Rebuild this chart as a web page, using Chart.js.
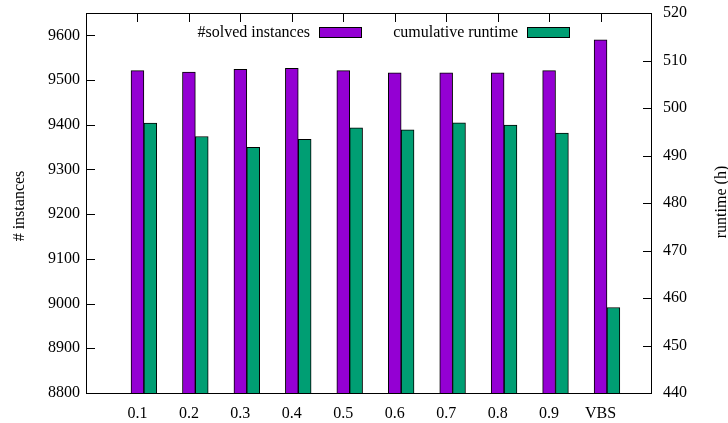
<!DOCTYPE html>
<html>
<head>
<meta charset="utf-8">
<script src="https://cdn.jsdelivr.net/npm/chart.js@4/dist/chart.umd.min.js"></script>
<style>
  html, body { margin: 0; padding: 0; background: #fff; }
  #wrap { width: 728px; height: 423px; position: relative; }
</style>
</head>
<body>
<div id="wrap"><canvas id="c" width="728" height="423"></canvas></div>
<script>
// ---- data ----
const categories = ['0.1', '0.2', '0.3', '0.4', '0.5', '0.6', '0.7', '0.8', '0.9', 'VBS'];
const solvedInstances = [9521, 9518, 9524, 9526, 9521, 9516, 9516, 9516, 9521, 9590];
const cumulativeRuntime = [496.8, 494.0, 491.7, 493.4, 495.8, 495.4, 496.9, 496.4, 494.7, 458.0];
const seriesLabels = ['#solved instances', 'cumulative runtime'];
const leftTicks = [8800, 8900, 9000, 9100, 9200, 9300, 9400, 9500, 9600];
const rightTicks = [440, 450, 460, 470, 480, 490, 500, 510, 520];
const leftTitle = '# instances';
const rightTitle = 'runtime (h)';

// ---- style / layout ----
const FONT = "'Liberation Serif', 'Times New Roman', serif";
const FS = 16;
const TICK_FONT = { family: FONT, size: FS };
const PURPLE = '#9400d3';
const GREEN = '#009e73';
const CLUSTER_OFFSET = 0.25; // second series sits one box-width right of the first
const TICK_LEN = 9;

Chart.defaults.color = '#000';
Chart.defaults.font.family = FONT;
Chart.defaults.font.size = FS;

function zeroPad(s) { s.paddingLeft = 0; s.paddingRight = 0; s.paddingTop = 0; s.paddingBottom = 0; }

const framePlugin = {
  id: 'frame',
  beforeDatasetsDraw(chart) {
    const { ctx, chartArea: a, scales } = chart;
    ctx.save();
    ctx.strokeStyle = '#000';
    ctx.lineWidth = 1;
    ctx.beginPath();
    scales.y.ticks.forEach(t => {
      const y = Math.round(scales.y.getPixelForValue(t.value)) + 0.5;
      ctx.moveTo(a.left, y); ctx.lineTo(a.left + TICK_LEN, y);
    });
    scales.y2.ticks.forEach(t => {
      const y = Math.round(scales.y2.getPixelForValue(t.value)) + 0.5;
      ctx.moveTo(a.right - TICK_LEN, y); ctx.lineTo(a.right, y);
    });
    categories.forEach((c, i) => {
      const x = Math.round(scales.x.getPixelForValue(i)) + 0.5;
      ctx.moveTo(x, a.top); ctx.lineTo(x, a.top + TICK_LEN);
      ctx.moveTo(x, a.bottom); ctx.lineTo(x, a.bottom - TICK_LEN);
    });
    ctx.stroke();
    ctx.restore();
  },
  afterDatasetsDraw(chart) {
    const { ctx, chartArea: a } = chart;
    ctx.save();
    ctx.strokeStyle = '#000';
    ctx.lineWidth = 1;
    ctx.strokeRect(a.left + 0.5, a.top + 0.5, a.right - a.left - 1, a.bottom - a.top);
    ctx.font = FS + 'px ' + FONT;
    ctx.fillStyle = '#000';
    // axis titles (both read bottom-to-top)
    const cy = (a.top + a.bottom) / 2;
    ctx.textAlign = 'center';
    ctx.textBaseline = 'middle';
    ctx.save(); ctx.translate(20, cy + 3); ctx.rotate(-Math.PI / 2); ctx.fillText(leftTitle, 0, 0); ctx.restore();
    ctx.save(); ctx.translate(722, cy - 1); ctx.rotate(-Math.PI / 2); ctx.fillText(rightTitle, 0, 0); ctx.restore();
    // legend (gnuplot style: text then sample box)
    ctx.textAlign = 'right';
    const entries = chart.data.datasets.map(d => ({ label: d.label, color: d.backgroundColor }));
    const textRight = [310, 518];
    const ly = 33;
    entries.forEach((e, k) => {
      ctx.fillStyle = '#000';
      ctx.fillText(e.label, textRight[k], ly);
      const bx = textRight[k] + 9;
      ctx.fillStyle = e.color;
      ctx.fillRect(bx, 27, 43, 11);
      ctx.strokeRect(bx + 0.5, 27.5, 42, 10);
    });
    ctx.restore();
  }
};

new Chart(document.getElementById('c'), {
  type: 'bar',
  data: {
    datasets: [
      {
        label: seriesLabels[0],
        data: solvedInstances.map((v, i) => ({ x: i, y: v })),
        backgroundColor: PURPLE,
        borderColor: '#000',
        borderWidth: 1,
        yAxisID: 'y'
      },
      {
        label: seriesLabels[1],
        data: cumulativeRuntime.map((v, i) => ({ x: i + CLUSTER_OFFSET, y: v })),
        backgroundColor: GREEN,
        borderColor: '#000',
        borderWidth: 1,
        yAxisID: 'y2'
      }
    ]
  },
  options: {
    responsive: false,
    animation: false,
    grouped: false,
    categoryPercentage: 1,
    barPercentage: 1,
    layout: { padding: { top: 13, left: 0, right: 0, bottom: 0 } },
    plugins: { legend: { display: false }, tooltip: { enabled: false } },
    scales: {
      x: {
        type: 'linear',
        offset: false,
        min: -1,
        max: categories.length,
        grid: { display: false, drawTicks: false, offset: false },
        border: { display: false },
        afterBuildTicks: s => { s.ticks = categories.map((c, i) => ({ value: i })); },
        ticks: {
          font: TICK_FONT,
          autoSkip: false,
          maxRotation: 0,
          padding: 11,
          callback: v => categories[v] ?? ''
        },
        afterFit: s => { s.height = 30; zeroPad(s); }
      },
      y: {
        position: 'left',
        min: 8800,
        max: 9650,
        grid: { display: false, drawTicks: false },
        border: { display: false },
        afterBuildTicks: s => { s.ticks = leftTicks.map(v => ({ value: v })); },
        ticks: { font: TICK_FONT, padding: 6, callback: v => String(v) },
        afterFit: s => { s.width = 86; zeroPad(s); }
      },
      y2: {
        position: 'right',
        min: 440,
        max: 520,
        grid: { display: false, drawTicks: false },
        border: { display: false },
        afterBuildTicks: s => { s.ticks = rightTicks.map(v => ({ value: v })); },
        ticks: { font: TICK_FONT, padding: 11, callback: v => String(v) },
        afterFit: s => { s.width = 76; zeroPad(s); }
      }
    }
  },
  plugins: [framePlugin]
});
</script>
</body>
</html>
